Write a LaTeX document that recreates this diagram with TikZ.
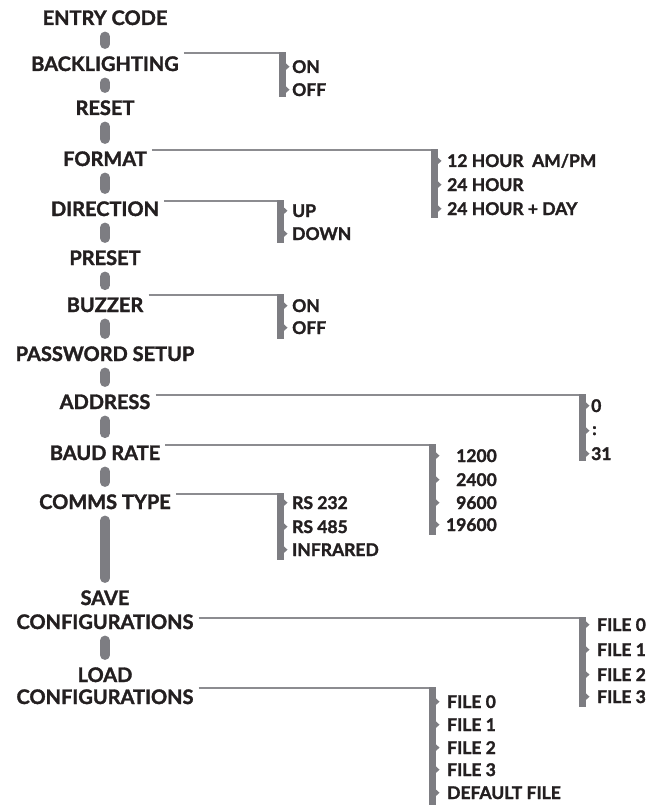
\documentclass[tikz,border=0pt]{standalone}
\usepackage{fontspec}
\setmainfont{Lato}[BoldFeatures={FakeBold=1.6}]
\usepackage{xcolor}
\usepackage{tikz}

\definecolor{pillgray}{RGB}{125,125,130}
\definecolor{linegray}{RGB}{140,140,144}
\definecolor{inkblack}{RGB}{35,31,32}

\begin{document}
\begin{tikzpicture}[x=1pt,y=-1pt,
	menu/.style={font=\fontsize{20}{22}\selectfont\bfseries,text=inkblack,anchor=base,inner sep=3pt},
	choice/.style={font=\fontsize{17.5}{19}\selectfont\bfseries,text=inkblack,anchor=base west,inner sep=0pt},
	pill/.style={line width=9.5pt,line cap=round,pillgray},
	feed/.style={line width=1.4pt,linegray}]
	\useasboundingbox (0,0) rectangle (647,805);
	
	% main menu
	\node[menu] (entry) at (105,25) {ENTRY CODE};
	\node[menu] (backl) at (105,71) {BACKLIGHTING};
	\node[menu] (reset) at (105,115) {RESET};
	\node[menu] (format) at (105,166) {FORMAT};
	\node[menu] (direction) at (105,216) {DIRECTION};
	\node[menu] (preset) at (105,265) {PRESET};
	\node[menu] (buzzer) at (105,312) {BUZZER};
	\node[menu] (password) at (105,361) {PASSWORD SETUP};
	\node[menu] (address) at (105,409) {ADDRESS};
	\node[menu] (baud) at (105,460) {BAUD RATE};
	\node[menu] (comms) at (105,509) {COMMS TYPE};
	\node[menu] (save) at (105,605) {SAVE};
	\node[menu] (savecfg) at (105,629) {CONFIGURATIONS};
	\node[menu] (load) at (105,682) {LOAD};
	\node[menu] (loadcfg) at (105,704) {CONFIGURATIONS};
	
	\foreach \a/\b in {entry/backl,backl/reset,reset/format,format/direction,direction/preset,preset/buzzer,buzzer/password,password/address,address/baud,baud/comms,comms/save,savecfg/load}{
		\draw[pill,shorten <=8pt,shorten >=9pt] (\a.south) -- (\b.north);
	}
	
	% choices
	\node[choice] (bl1) at (292,73) {ON};
	\node[choice] (bl2) at (292,96) {OFF};
	
	\node[choice] (fm1) at (447,167) {12 HOUR \ AM/PM};
	\node[choice] (fm2) at (447,191) {24 HOUR};
	\node[choice] (fm3) at (447,215) {24 HOUR + DAY};
	
	\node[choice] (dr1) at (292,217) {UP};
	\node[choice] (dr2) at (292,240) {DOWN};
	
	\node[choice] (bz1) at (292,312) {ON};
	\node[choice] (bz2) at (292,334) {OFF};
	
	\node[choice] (ad1) at (591,412) {0};
	\node[choice] (ad2) at (592,435) {:};
	\node[choice] (ad3) at (591,460) {31};
	
	\node[choice,anchor=base east] (br1) at (497,462) {1200};
	\node[choice,anchor=base east] (br2) at (497,486) {2400};
	\node[choice,anchor=base east] (br3) at (497,509) {9600};
	\node[choice,anchor=base east] (br4) at (497,531) {19600};
	
	\node[choice] (ct1) at (292,509) {RS 232};
	\node[choice] (ct2) at (292,533) {RS 485};
	\node[choice] (ct3) at (292,556) {INFRARED};
	
	\foreach \k/\y in {0/631,1/656,2/681,3/703}{
		\node[choice] (sv\k) at (597,\y) {FILE \k};
	}
	\foreach \k/\y in {0/708,1/731,2/754,3/776}{
		\node[choice] (ld\k) at (447,\y) {FILE \k};
	}
	\node[choice] (ld4) at (447,799) {DEFAULT FILE};
	
	% feed lines and braces
	\foreach \src/\grp/\first/\last/\bx/\ty/\by [count=\i] in {backl/bl/1/2/279/53/97,format/fm/1/3/431/150/218,direction/dr/1/2/277/201/243,buzzer/bz/1/2/277/295/339,address/ad/1/3/579/395/461,baud/br/1/4/429/445/535,comms/ct/1/3/277/494/560,savecfg/sv/0/3/579/618/707,loadcfg/ld/0/4/429/688/806}{
		\coordinate (top\i) at (\bx+6,\ty);
		\draw[feed] ([xshift=2pt]\src.east |- top\i) -- (top\i);
		\fill[pillgray] (\bx,\ty-0.7) rectangle (\bx+6.5,\by);
		\foreach \k in {\first,...,\last}{
			\fill[pillgray] (\grp\k.west -| top\i) ++(-1,-5) -- ++(5.5,5) -- ++(-5.5,5) -- cycle;
		}
	}
\end{tikzpicture}
\end{document}
